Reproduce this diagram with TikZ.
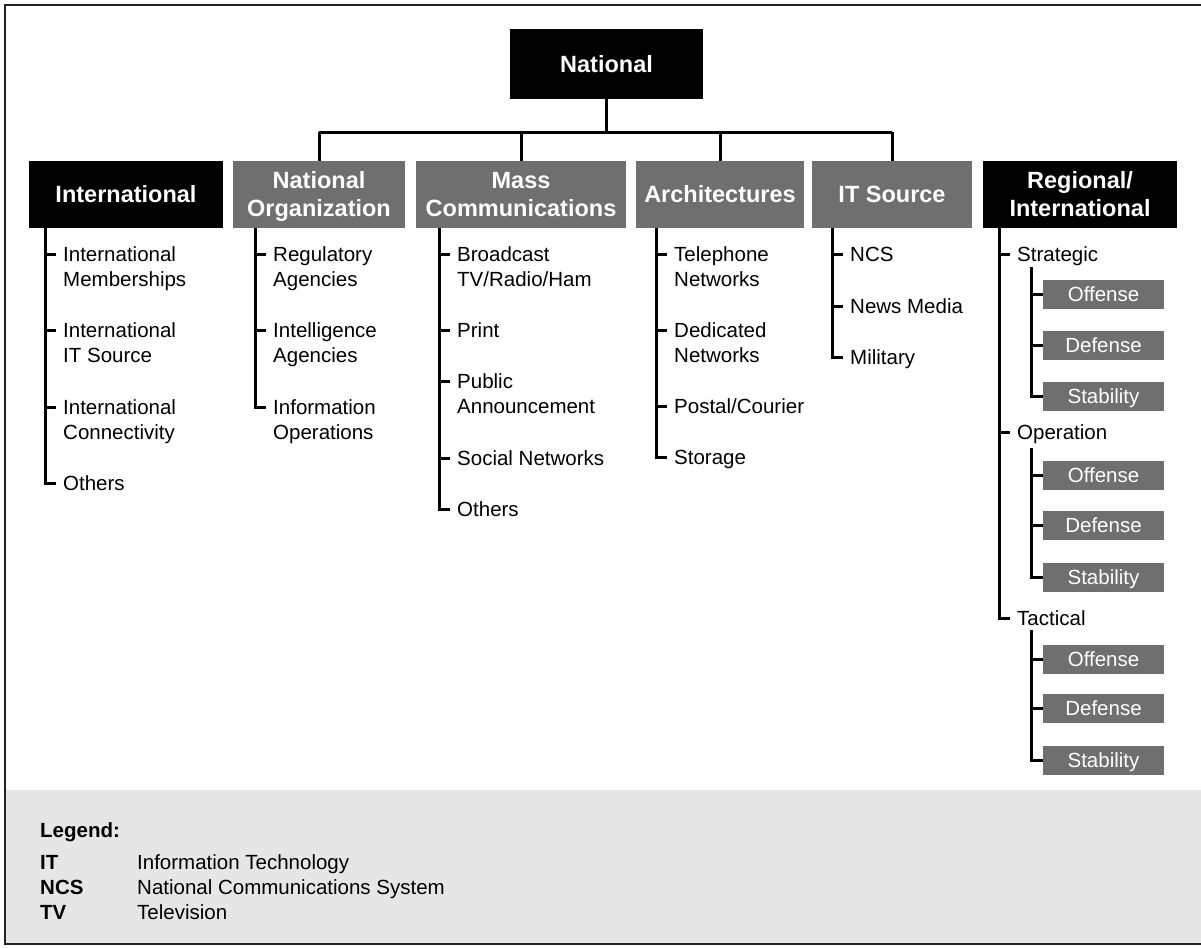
\documentclass[tikz,border=0pt]{standalone}
\usepackage{fontspec}
\setmainfont{Liberation Sans}
\usetikzlibrary{calc}

\definecolor{boxgray}{HTML}{6F6F6F}
\definecolor{legendbg}{HTML}{E6E6E6}
\definecolor{framegray}{HTML}{222222}

% left-aligned lines whose baseline is the first line's baseline
\newcommand\twoline[1]{\begin{tabular}[t]{@{}l@{}}#1\end{tabular}}

% a leaf of a branch: #1 name, #2 spine x, #3 tick y, #4 text
\newcommand\leaf[4]{%
  \coordinate (#1-s) at (#2,#3);
  \node[leaf] (#1) at (#2+18,#3+7.5) {#4};
}
% short tick from the spine to a leaf
\newcommand\tick[1]{\draw[link,shorten >=7pt] (#1-s) -- (#1-s -| #1.west);}

\tikzset{
  head/.style={rectangle, inner sep=0pt, text=white, align=center,
    minimum height=67pt, font=\bfseries\fontsize{23.5}{28}\selectfont},
  blackhead/.style={head, fill=black},
  grayhead/.style={head, fill=boxgray},
  leaf/.style={anchor=base west, inner sep=0pt,
    font=\fontsize{20.5}{25}\selectfont},
  subbox/.style={rectangle, fill=boxgray, text=white, inner sep=0pt,
    minimum width=121pt, minimum height=29pt, text height=14.7pt, text depth=0pt,
    font=\fontsize{20.5}{25}\selectfont},
  link/.style={line width=3pt, line join=miter, draw=black},
  legtxt/.style={anchor=base west, inner sep=0pt,
    font=\fontsize{20.5}{25}\selectfont},
  legabbr/.style={legtxt, font=\bfseries\fontsize{20.5}{25}\selectfont},
}

\begin{document}
\begin{tikzpicture}[x=1pt, y=-1pt]
\useasboundingbox (0,0) rectangle (1201,947);

% legend panel and frame
\fill[legendbg] (5,790) rectangle (1201,944);
\draw[framegray, line width=2.5pt, line join=miter] (1201,5) -- (5,5) -- (5,944) -- (1201,944);

% top level
\node[blackhead, minimum width=193pt, minimum height=70pt] (natl) at (606.5,64) {National};

% second level
\node[blackhead, minimum width=194pt] (intl)  at (126,194.5)  {International};
\node[grayhead,  minimum width=172pt] (norg)  at (319,194.5)  {National\\Or\smash{g}anization};
\node[grayhead,  minimum width=210pt] (mass)  at (521,194.5)  {Mass\\Communications};
\node[grayhead,  minimum width=168pt] (arch)  at (720,194.5)  {Architectures};
\node[grayhead,  minimum width=160pt] (itsrc) at (892,194.5)  {IT Source};
\node[blackhead, minimum width=194pt] (regl)  at (1080,194.5) {Regional/\\International};

% bus joining National to its four branches
\coordinate (bus) at (0,132);
\draw[link] (natl.south) -- (natl.south |- bus);
\draw[link] (norg.north |- bus) -- (itsrc.north |- bus);
\draw[link] (norg.north |- bus) -- (norg.north);
\draw[link] (mass.north |- bus) -- (mass.north);
\draw[link] (arch.north |- bus) -- (arch.north);
\draw[link] (itsrc.north |- bus) -- (itsrc.north);

% International
\leaf{i1}{45}{254}{\twoline{International\\Memberships}}
\leaf{i2}{45}{330}{\twoline{International\\IT Source}}
\leaf{i3}{45}{407}{\twoline{International\\Connectivity}}
\leaf{i4}{45}{483}{Others}
\draw[link,shorten >=7pt] (intl.south -| i4-s) -- (i4-s) -- (i4-s -| i4.west);
\tick{i1}\tick{i2}\tick{i3}

% National Organization
\leaf{n1}{255}{254}{\twoline{Regulatory\\Agencies}}
\leaf{n2}{255}{330}{\twoline{Intelligence\\Agencies}}
\leaf{n3}{255}{407}{\twoline{Information\\Operations}}
\draw[link,shorten >=7pt] (norg.south -| n3-s) -- (n3-s) -- (n3-s -| n3.west);
\tick{n1}\tick{n2}

% Mass Communications
\leaf{m1}{439}{254}{\twoline{Broadcast\\TV/Radio/Ham}}
\leaf{m2}{439}{330}{Print}
\leaf{m3}{439}{381}{\twoline{Public\\Announcement}}
\leaf{m4}{439}{458}{Social Networks}
\leaf{m5}{439}{509}{Others}
\draw[link,shorten >=7pt] (mass.south -| m5-s) -- (m5-s) -- (m5-s -| m5.west);
\tick{m1}\tick{m2}\tick{m3}\tick{m4}

% Architectures
\leaf{a1}{656}{254}{\twoline{Telephone\\Networks}}
\leaf{a2}{656}{330}{\twoline{Dedicated\\Networks}}
\leaf{a3}{656}{406}{Postal/Courier}
\leaf{a4}{656}{457}{Storage}
\draw[link,shorten >=7pt] (arch.south -| a4-s) -- (a4-s) -- (a4-s -| a4.west);
\tick{a1}\tick{a2}\tick{a3}

% IT Source
\leaf{t1}{832}{254}{NCS}
\leaf{t2}{832}{306}{News Media}
\leaf{t3}{832}{357}{Military}
\draw[link,shorten >=7pt] (itsrc.south -| t3-s) -- (t3-s) -- (t3-s -| t3.west);
\tick{t1}\tick{t2}

% Regional/International
\leaf{r1}{999}{254}{Strategic}
\leaf{r2}{999}{432}{Operation}
\leaf{r3}{999}{618}{Tactical}
\draw[link,shorten >=7pt] (regl.south -| r3-s) -- (r3-s) -- (r3-s -| r3.west);
\tick{r1}\tick{r2}

% levels under each of Strategic, Operation, Tactical
\coordinate (r1-sub) at (1031,267);
\node[subbox] (r1a) at (1103.5,294.5) {Offense};
\node[subbox] (r1b) at (1103.5,345)   {Defense};
\node[subbox] (r1c) at (1103.5,396)   {Stability};
\draw[link] (r1-sub) -- (r1-sub |- r1c.west) -- (r1c.west);
\draw[link] (r1-sub |- r1a.west) -- (r1a.west);
\draw[link] (r1-sub |- r1b.west) -- (r1b.west);

\coordinate (r2-sub) at (1031,448);
\node[subbox] (r2a) at (1103.5,475.5) {Offense};
\node[subbox] (r2b) at (1103.5,525)   {Defense};
\node[subbox] (r2c) at (1103.5,577)   {Stability};
\draw[link] (r2-sub) -- (r2-sub |- r2c.west) -- (r2c.west);
\draw[link] (r2-sub |- r2a.west) -- (r2a.west);
\draw[link] (r2-sub |- r2b.west) -- (r2b.west);

\coordinate (r3-sub) at (1031,630);
\node[subbox] (r3a) at (1103.5,659)   {Offense};
\node[subbox] (r3b) at (1103.5,708.5) {Defense};
\node[subbox] (r3c) at (1103.5,760.5) {Stability};
\draw[link] (r3-sub) -- (r3-sub |- r3c.west) -- (r3c.west);
\draw[link] (r3-sub |- r3a.west) -- (r3a.west);
\draw[link] (r3-sub |- r3b.west) -- (r3b.west);

% legend
\node[legabbr] (legtitle) at (40,837) {Legend:};
\node[legabbr] (abit)   at (40,869)  {IT};
\node[legtxt]  (defit)  at (137,869) {Information Technology};
\node[legabbr] (abncs)  at (40,894)  {NCS};
\node[legtxt]  (defncs) at (137,894) {National Communications System};
\node[legabbr] (abtv)   at (40,919)  {TV};
\node[legtxt]  (deftv)  at (137,919) {Television};
\end{tikzpicture}
\end{document}
